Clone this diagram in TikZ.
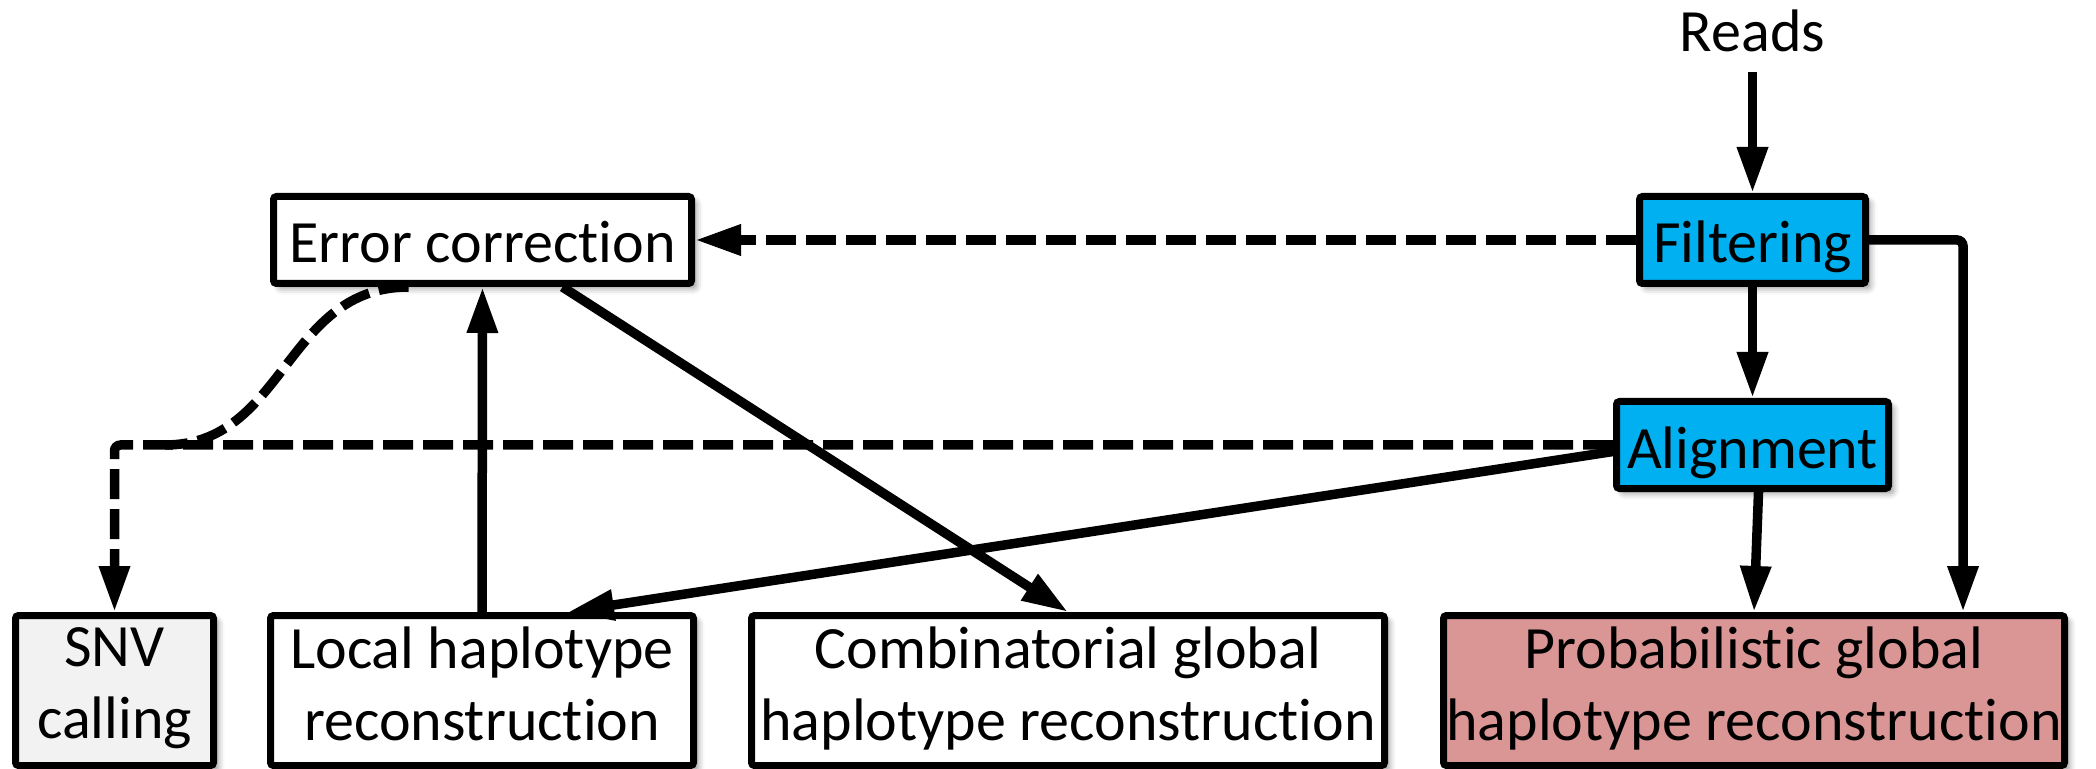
\documentclass[tikz,border=0pt]{standalone}
\usepackage{fontspec}
\setmainfont{Carlito}[Ligatures=NoCommon]
\usetikzlibrary{arrows.meta,positioning,shadows.blur}
\definecolor{filtblue}{HTML}{00B0F0}
\definecolor{probred}{HTML}{D99694}
\definecolor{snvgray}{HTML}{F2F2F2}

\begin{document}
\begin{tikzpicture}[
    x=0.5pt, y=-0.5pt,
    font=\fontsize{30}{36}\selectfont,
    box/.style={rectangle, draw, line width=3.5pt, rounded corners=1.5pt, fill=white, inner sep=0pt,
        blur shadow={shadow xshift=2.5pt, shadow yshift=-2.5pt, shadow blur radius=3pt, shadow opacity=40}},
    stage/.style={box, minimum height=43.5pt, text height=29pt, text depth=6pt},
    result/.style={box, align=center, minimum height=75pt,
        execute at begin node=\rule{0pt}{35.5pt}, execute at end node=\rule[-7pt]{0pt}{7pt}},
    conn/.style={-{Triangle[length=23pt,width=14.5pt]}, line width=4.75pt},
    dashconn/.style={conn, dash pattern=on 15pt off 5pt, rounded corners=3pt},
    dashline/.style={line width=4.75pt, dash pattern=on 15pt off 5pt}
]
\useasboundingbox (0,0) rectangle (2096,769);

% Pipeline
\node[stage, fill=filtblue, minimum width=113pt] (filt) at (1752.5,240) {Filtering};
\node[above=60.5pt of filt, inner sep=10pt, text depth=0pt] (reads) {Reads};
\node[stage, fill=filtblue, minimum width=136pt, below=55.5pt of filt] (alig) {Alignment};
\node[stage, minimum width=209pt] (err) at (482.5,240) {Error correction};

% Outputs
\node[result, fill=snvgray, minimum width=99pt] (snv) at (114.5,690.5) {SNV\\calling};
\node[result, minimum width=211.5pt, right=25pt of snv] (local) {Local haplotype\\reconstruction};
\node[result, minimum width=316.5pt, right=25.5pt of local] (comb) {Combinatorial global\\haplotype reconstruction};
\node[result, fill=probred, minimum width=310.5pt, right=26pt of comb] (prob) {Probabilistic global\\haplotype reconstruction};

\coordinate (snvjoin) at (165,445);

% Arrows
\draw[conn] (reads) -- (filt);
\draw[conn] (filt) -- (alig);
\draw[dashconn] (filt) -- (err);
\draw[conn, rounded corners=3pt] (filt.east) -| ([xshift=104.5pt]prob.north);
\draw[conn] ([xshift=3pt]alig.south) -- (prob.north);
\draw[dashconn] (alig.west) -| (snv.north);
\draw[conn] ([yshift=-3.25pt]alig.west) -- ([xshift=43pt]local.north);
\draw[conn] (local) -- (err);
\draw[conn] ([xshift=40pt]err.south) -- (comb.north);
\draw[dashline] ([xshift=-37pt]err.south) .. controls (285,287) and (285,445) .. (snvjoin);

\end{tikzpicture}
\end{document}
